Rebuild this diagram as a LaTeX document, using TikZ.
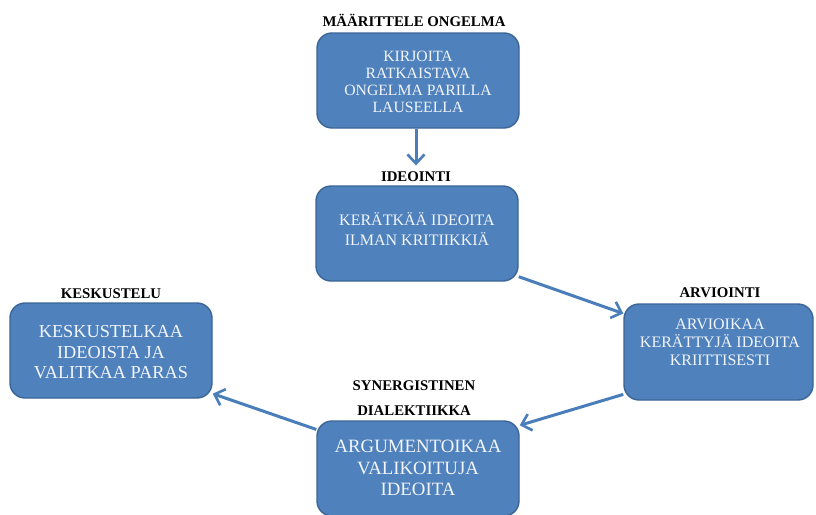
\documentclass[tikz,border=0pt]{standalone}
\usepackage{fontspec}
\setmainfont{Liberation Serif}
\usetikzlibrary{arrows.meta}
\pgfdeclarelayer{bg}
\pgfsetlayers{bg,main}
\definecolor{boxfill}{HTML}{4F81BD}
\definecolor{boxline}{HTML}{3A6596}
\definecolor{flow}{HTML}{4A7EBB}
\definecolor{boxtext}{HTML}{F2F5FA}
\tikzset{
  stage/.style={draw=boxline, line width=1.4pt, fill=boxfill, rounded corners=15pt,
    minimum width=202pt, minimum height=95pt, inner sep=0pt},
  stagetext/.style={text=boxtext, align=center, inner sep=0pt},
  heading/.style={font=\fontsize{14.8}{16}\selectfont\bfseries, align=center, inner sep=0pt},
  flowline/.style={draw=flow, line width=3pt,
    -{Straight Barb[length=9pt,width=17pt,line width=2.6pt]}}
}
\begin{document}
\begin{tikzpicture}[x=1pt,y=-1pt]
\useasboundingbox (0,0) rectangle (816,514);
\clip (0,0) rectangle (816,514);

% stage boxes
\node[stage] (b1) at (418,80.5) {};
\node[stage] (b2) at (417,233.5) {};
\node[stage] (b3) at (111,350.5) {};
\node[stage, minimum width=189pt, minimum height=96pt] (b4) at (718.5,352) {};
\node[stage] (b5) at (418,468.5) {};

% box texts
\node[stagetext, font=\fontsize{15.7}{17}\selectfont] (t1) at (418,81.5)
  {KIRJOITA\\RATKAISTAVA\\ONGELMA PARILLA\\LAUSEELLA};
\node[stagetext, font=\fontsize{16}{20}\selectfont] (t2) at (417,229.5)
  {KERÄTKÄÄ IDEOITA\\ILMAN KRITIIKKIÄ};
\node[stagetext, font=\fontsize{18.3}{20.5}\selectfont] (t3) at (111,352.5)
  {KESKUSTELKAA\\IDEOISTA JA\\VALITKAA PARAS};
\node[stagetext, font=\fontsize{16}{18}\selectfont] (t4) at (720,342.5)
  {ARVIOIKAA\\KERÄTTYJÄ IDEOITA\\KRIITTISESTI};
\node[stagetext, font=\fontsize{18.8}{21.5}\selectfont] (t5) at (418,468)
  {ARGUMENTOIKAA\\VALIKOITUJA\\IDEOITA};

% headings
\node[heading] (h1) at (414,20) {MÄÄRITTELE ONGELMA};
\node[heading] (h2) at (416,176.5) {IDEOINTI};
\node[heading] (h3) at (111,293.5) {KESKUSTELU};
\node[heading] (h4) at (720,292.5) {ARVIOINTI};
\node[heading, font=\fontsize{14.8}{24.5}\selectfont\bfseries] (h5) at (414,398) {SYNERGISTINEN\\DIALEKTIIKKA};

% connectors
\begin{pgfonlayer}{bg}
\draw[flowline] (b1.south -| h2.north) -- ([yshift=6pt]h2.north);
\draw[flowline] (b2.-23.9) -- (b4.158.5);
\draw[flowline] (b4.204.4) -- (b5.23.5);
\draw[flowline] (b5.159) -- (b3.-23.5);
\end{pgfonlayer}
\end{tikzpicture}
\end{document}
